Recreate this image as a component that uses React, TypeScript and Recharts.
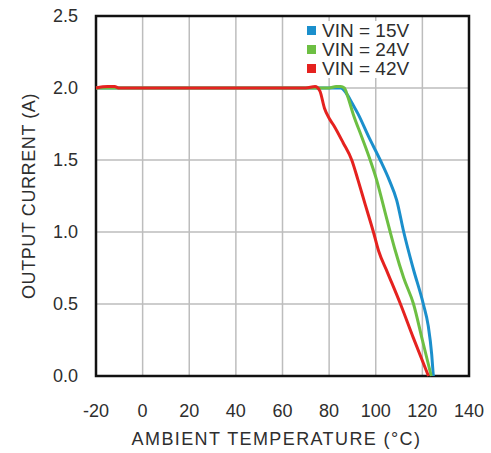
import {
  LineChart,
  Line,
  XAxis,
  YAxis,
  CartesianGrid,
  ReferenceArea,
} from 'recharts';

const tempTicks = [-20, 0, 20, 40, 60, 80, 100, 120, 140];
const currentTicks = [0, 0.5, 1.0, 1.5, 2.0, 2.5];

// VIN = 15V
const temp15 = [-20, 0, 40, 80, 85, 87.5, 90, 92.4, 97, 101.9, 105.8, 109, 112, 116, 120.4, 122.5, 124, 124.7];
const current15 = [2.0, 2.0, 2.0, 2.0, 2.0, 1.96, 1.89, 1.82, 1.66, 1.5, 1.36, 1.22, 1.0, 0.75, 0.5, 0.35, 0.15, 0.0];

// VIN = 24V
const temp24 = [-20, 0, 40, 80, 83, 85, 86.5, 88, 90.3, 94, 97.6, 100.4, 103, 106.2, 108.3, 112, 116.2, 120, 123.8];
const current24 = [2.0, 2.0, 2.0, 2.0, 2.01, 2.01, 2.0, 1.94, 1.82, 1.66, 1.5, 1.36, 1.2, 1.0, 0.875, 0.68, 0.5, 0.25, 0.0];

// VIN = 42V
const temp42 = [-20, -15, -12, -10, 0, 20, 40, 60, 70, 74, 76, 78, 80, 82, 86, 89.7, 92.4, 95.5, 99, 101.2, 105, 110.6, 116, 122.6];
const current42 = [2.0, 2.01, 2.01, 2.0, 2.0, 2.0, 2.0, 2.0, 2.0, 2.01, 1.98, 1.86, 1.79, 1.74, 1.62, 1.5, 1.36, 1.19, 1.0, 0.87, 0.72, 0.5, 0.27, 0.0];

const series = [
  { name: 'VIN = 15V', color: '#1b8fcc', temps: temp15, currents: current15 },
  { name: 'VIN = 24V', color: '#6dbf43', temps: temp24, currents: current24 },
  { name: 'VIN = 42V', color: '#e5221f', temps: temp42, currents: current42 },
];

const font = '"Liberation Sans", Arial, sans-serif';
const textColor = '#2e2e2e';
const tickStyle = { fontSize: 18, fill: textColor, fontFamily: font };
const labelStyle = { fontSize: 18, fill: textColor, fontFamily: font, letterSpacing: 0.6 };

function LegendBox() {
  return (
    <div
      style={{
        position: 'absolute',
        left: 307,
        top: 21,
        fontFamily: font,
        fontSize: 19,
        color: textColor,
        lineHeight: '19px',
        background: '#fff',
        paddingRight: 4,
      }}
    >
      {series.map((s) => (
        <div key={s.name} style={{ display: 'flex', alignItems: 'center' }}>
          <span style={{ width: 9, height: 9, background: s.color, marginRight: 6, display: 'inline-block' }} />
          {s.name}
        </div>
      ))}
    </div>
  );
}

export default function App() {
  return (
    <div style={{ position: 'absolute', left: 0, top: 0, width: 491, height: 453, background: '#fff' }}>
      <LineChart width={491} height={453} margin={{ top: 16, right: 22, left: 0, bottom: 0 }}>
        <CartesianGrid stroke="#bdbdbd" strokeWidth={1.5} />
        <XAxis
          type="number"
          dataKey="t"
          domain={[-20, 140]}
          ticks={tempTicks}
          interval={0}
          height={77}
          axisLine={false}
          tickLine={false}
          tickMargin={22}
          tick={tickStyle}
          label={{
            value: 'AMBIENT TEMPERATURE (°C)',
            position: 'insideBottom',
            offset: 8,
            dx: -6,
            style: { ...labelStyle, letterSpacing: 1.4 },
          }}
        />
        <YAxis
          type="number"
          domain={[0, 2.5]}
          ticks={currentTicks}
          interval={0}
          width={96}
          axisLine={false}
          tickLine={false}
          tickMargin={12}
          tickFormatter={(v: number) => v.toFixed(1)}
          tick={tickStyle}
          label={{
            value: 'OUTPUT CURRENT (A)',
            angle: -90,
            position: 'insideLeft',
            offset: 29,
            style: { ...labelStyle, textAnchor: 'middle' },
          }}
        />
        <ReferenceArea x1={-20} x2={140} y1={0} y2={2.5} fill="none" stroke="#111" strokeWidth={2.5} />
        {series.map((s) => (
          <Line
            key={s.name}
            name={s.name}
            data={s.temps.map((t, i) => ({ t, v: s.currents[i] }))}
            dataKey="v"
            stroke={s.color}
            strokeWidth={3}
            dot={false}
            type="monotone"
            isAnimationActive={false}
          />
        ))}
      </LineChart>
      <LegendBox />
    </div>
  );
}
